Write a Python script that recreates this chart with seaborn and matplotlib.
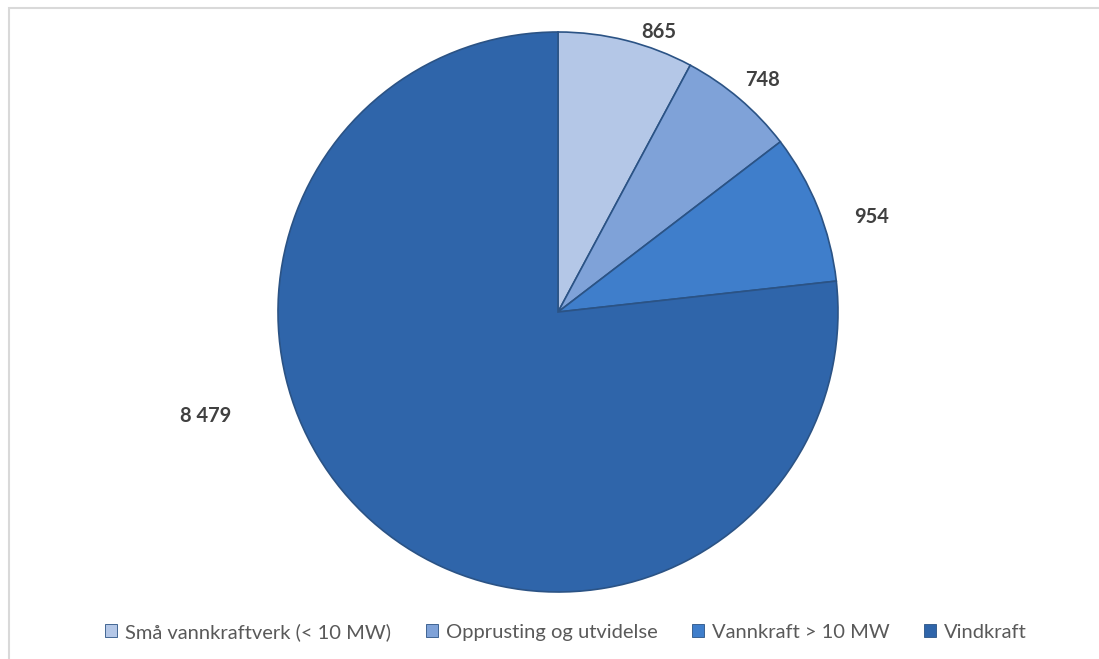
import matplotlib
matplotlib.use("Agg")
import matplotlib.pyplot as plt
from matplotlib.patches import Patch, Rectangle
import seaborn as sns

categories = ["Små vannkraftverk (< 10 MW)", "Opprusting og utvidelse",
              "Vannkraft > 10 MW", "Vindkraft"]
values = [865, 748, 954, 8479]
value_labels = ["865", "748", "954", "8 479"]

colors = ["#b4c7e7", "#7fa2d8", "#3f7ecb", "#2f65aa"]
# label positions (pie radius = 1), best-fit like the original
label_pos = [(0.36, 1.0), (0.73, 0.83), (1.12, 0.34), (-1.26, -0.37)]

sns.set_theme(style="white")
plt.rcParams["font.family"] = ["Lato", "DejaVu Sans"]

W, H = 1099, 659
fig = plt.figure(figsize=(W / 100, H / 100), dpi=100)
fig.patch.set_facecolor("white")

# chart frame
fig.add_artist(Rectangle((9 / W, -0.1), 1.2, 1 - 8 / H + 0.1, transform=fig.transFigure,
                         fill=False, edgecolor="#d9d9d9", linewidth=1.5))

cx, cy, r = 558, 312, 280
ax = fig.add_axes([(cx - r) / W, (H - cy - r) / H, 2 * r / W, 2 * r / H])
wedges, _ = ax.pie(values, colors=colors, startangle=90, counterclock=False,
                   radius=1, wedgeprops=dict(edgecolor="#2b5385", linewidth=1.2))
ax.set_xlim(-1, 1)
ax.set_ylim(-1, 1)
ax.set_aspect("equal")
ax.axis("off")

for txt, (x, y) in zip(value_labels, label_pos):
    ax.text(x, y, txt, ha="center", va="center", fontsize=14.5,
            fontweight="bold", color="#404040")

handles = [Patch(facecolor=c, edgecolor="#2b5385", linewidth=0.6) for c in colors]
leg = fig.legend(handles, categories, ncol=4, loc="center",
                 bbox_to_anchor=(566 / W, 1 - 632 / H), frameon=False,
                 fontsize=14.5, handlelength=0.6, handleheight=0.6,
                 handletextpad=0.4, columnspacing=1.7)
for t in leg.get_texts():
    t.set_color("#595959")

fig.savefig("out.png", dpi=100)
